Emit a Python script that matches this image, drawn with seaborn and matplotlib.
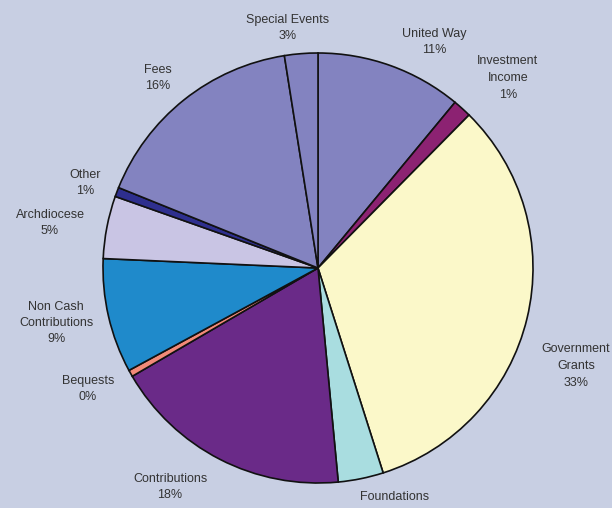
import matplotlib
matplotlib.use("Agg")
import matplotlib.pyplot as plt
import seaborn as sns

# Data (clockwise from 12 o'clock)
categories = ["United Way", "Investment\nIncome", "Government\nGrants", "Foundations",
              "Contributions", "Bequests", "Non Cash\nContributions", "Archdiocese",
              "Other", "Fees", "Special Events"]
shares = [11.0, 1.4, 32.7, 3.4, 18.1, 0.5, 8.6, 4.7, 0.7, 16.4, 2.5]
pct_labels = ["11%", "1%", "33%", "", "18%", "0%", "9%", "5%", "1%", "16%", "3%"]
colors = ["#8383c0", "#8c2272", "#fbf8c9", "#a9dde0", "#6a2a88", "#f28a78",
          "#1f8acb", "#c9c5e4", "#2e2f8e", "#8383c0", "#8383c0"]

sns.set_theme(style="white")
plt.rcParams['font.family'] = ['Liberation Sans', 'DejaVu Sans']

BG = "#c8cfe3"
W, H = 612, 508
fig = plt.figure(figsize=(W / 100, H / 100), dpi=100, facecolor=BG)
ax = fig.add_axes([0, 0, 1, 1])
ax.set_facecolor(BG)

cx, cy, r = 318, H - 268, 215
ax.pie(shares, colors=colors, startangle=90, counterclock=False,
       center=(cx, cy), radius=r, frame=True,
       wedgeprops=dict(edgecolor="#111111", linewidth=1.2))
ax.set_xlim(0, W)
ax.set_ylim(0, H)
ax.set_aspect("equal")
ax.axis("off")

# label anchor positions in pixel coordinates (x, y from top) of label centers
label_pos = [(434, 42), (508, 78), (576, 366), (395, 497), (170, 487),
             (88, 389), (56, 323), (50, 223), (85, 183), (158, 78), (288, 28)]

for cat, pct, (px, py) in zip(categories, pct_labels, label_pos):
    txt = cat if pct == "" else cat + "\n" + pct
    ax.text(px, H - py, txt, ha="center", va="center", fontsize=9,
            color="#333333", linespacing=1.5)

fig.savefig("out.png", dpi=100, facecolor=BG)
